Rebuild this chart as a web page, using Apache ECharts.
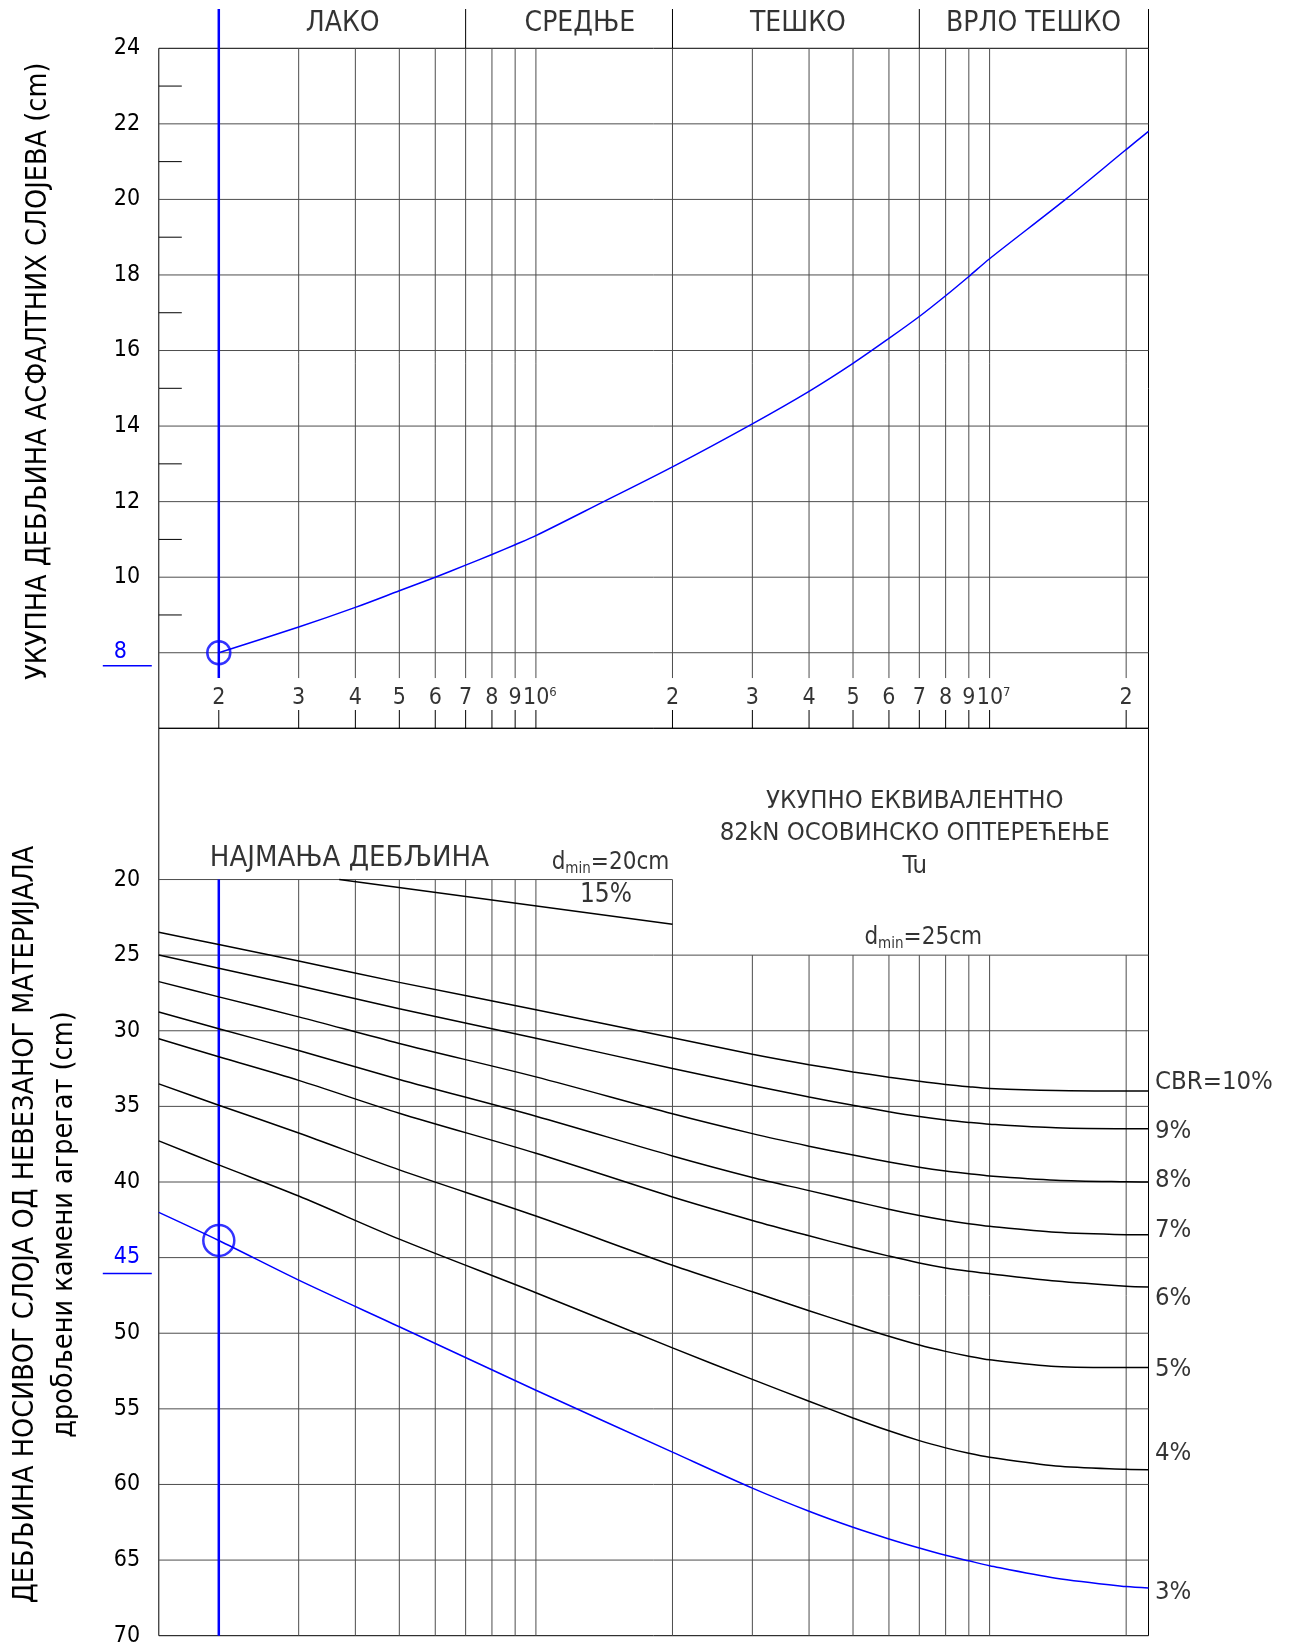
<!DOCTYPE html>
<html lang="sr">
<head>
<meta charset="UTF-8">
<title>Дијаграм за димензионисање</title>
<script src="https://cdn.jsdelivr.net/npm/echarts@6.0.0/dist/echarts.min.js"></script>
<style>
  html, body { margin: 0; padding: 0; background: #fff; }
  #main { width: 1293px; height: 1648px; }
</style>
</head>
<body>
<div id="main"></div>
<script>
var FONT = "'DejaVu Sans Condensed', 'DejaVu Sans', sans-serif";
var BLUE = '#0000ff';

// Tu - укупно еквивалентно осовинско оптерећење (log оса)
var T_MIN = 147500, T_MAX = 22400000;
var gridT = [2e5, 3e5, 4e5, 5e5, 6e5, 7e5, 8e5, 9e5, 1e6, 2e6, 3e6, 4e6, 5e6, 6e6, 7e6, 8e6, 9e6, 1e7, 2e7];
var tickLabels = ['2', '3', '4', '5', '6', '7', '8', '9', '10^6', '2', '3', '4', '5', '6', '7', '8', '9', '10^7', '2'];

// категорије саобраћаја
var classNames = ['ЛАКО', 'СРЕДЊЕ', 'ТЕШКО', 'ВРЛО ТЕШКО'];
var classLabelT = [3.75e5, 1.25e6, 3.78e6, 1.25e7];
var classBounds = [7e5, 2e6, 7e6, T_MAX];

// горњи дијаграм: дебљина асфалтних слојева (cm)
var asphaltT = [2e5, 3e5, 4e5, 5e5, 6e5, 7e5, 8e5, 9e5, 1e6, 1.4e6, 2e6, 3e6, 4e6, 5e6, 6e6, 7e6, 8e6, 9e6, 1e7, 1.47e7, 2e7, 2.24e7];
var asphaltH = [8, 8.68, 9.2, 9.64, 10.0, 10.32, 10.6, 10.86, 11.1, 11.98, 12.92, 14.06, 14.92, 15.66, 16.32, 16.9, 17.45, 17.96, 18.43, 20.0, 21.32, 21.8];

// доњи дијаграм: дебљина носивог слоја (cm) за CBR
var baseT = [147500, 2e5, 3e5, 5e5, 1e6, 2e6, 3e6, 4e6, 5e6, 6e6, 7e6, 8e6, 9e6, 1e7, 1.4e7, 2e7, 2.24e7];
var cbr10 = [23.49, 24.30, 25.39, 26.80, 28.61, 30.46, 31.55, 32.24, 32.72, 33.07, 33.34, 33.55, 33.70, 33.81, 33.95, 33.98, 33.98];
var cbr9 = [24.99, 25.86, 27.03, 28.54, 30.50, 32.49, 33.62, 34.38, 34.93, 35.35, 35.67, 35.90, 36.06, 36.18, 36.42, 36.48, 36.48];
var cbr8 = [26.75, 27.76, 29.08, 30.84, 33.05, 35.49, 36.80, 37.63, 38.22, 38.68, 39.02, 39.27, 39.45, 39.60, 39.88, 39.99, 40.00];
var cbr7 = [28.76, 29.87, 31.31, 33.22, 35.65, 38.28, 39.70, 40.57, 41.25, 41.80, 42.22, 42.53, 42.76, 42.93, 43.32, 43.48, 43.49];
var cbr6 = [30.53, 31.72, 33.28, 35.45, 38.10, 40.99, 42.54, 43.56, 44.32, 44.90, 45.35, 45.68, 45.90, 46.06, 46.55, 46.89, 46.94];
var cbr5 = [33.51, 34.92, 36.76, 39.20, 42.25, 45.51, 47.26, 48.51, 49.45, 50.20, 50.78, 51.20, 51.52, 51.76, 52.20, 52.27, 52.27];
var cbr4 = [37.28, 38.87, 40.93, 43.78, 47.32, 50.97, 53.05, 54.50, 55.60, 56.45, 57.10, 57.58, 57.94, 58.20, 58.78, 59.00, 59.03];
var cbr3 = [42.01, 43.87, 46.49, 49.57, 53.77, 57.86, 60.24, 61.77, 62.83, 63.60, 64.20, 64.68, 65.05, 65.37, 66.20, 66.75, 66.85];
var cbrNames = ['CBR=10%', '9%', '8%', '7%', '6%', '5%', '4%', '3%'];
var cbrLabelY = [33.43, 36.63, 39.9, 43.17, 47.67, 52.41, 57.97, 67.15];

var cbr15T = [368600, 2e6];
var cbr15D = [20, 22.95];

// пример очитавања
var designT = 2e5;
var designH = 8;
var designD = 43.87;

// натписи у доњем дијаграму
var noteText = ['НАЈМАЊА ДЕБЉИНА', '{a|d}{m|min}{a|=20cm}', '15%', 'УКУПНО ЕКВИВАЛЕНТНО\n82kN ОСОВИНСКО ОПТЕРЕЋЕЊЕ\nTu', '{a|d}{m|min}{a|=25cm}'];
var noteT = [388000, 1.46e6, 1.427e6, 6.84e6, 7.14e6];
var noteY = [18.64, 18.9, 21.02, 16.95, 23.87];
var noteSize = [29, 24, 26, 25.5, 24];

var cbrList = [cbr10, cbr9, cbr8, cbr7, cbr6, cbr5, cbr4, cbr3];

// линије мреже: [x1, y1, x2, y2, врста]
var topSegs = [];
gridT.forEach(function (t) {
  if (t !== designT) topSegs.push([t, 7.33, t, 24, 0]);
  topSegs.push([t, 6, t, 6, 4]);
});
for (var v = 8; v <= 22; v += 2) topSegs.push([T_MIN, v, T_MAX, v, 0]);
for (v = 9; v <= 23; v += 2) topSegs.push([T_MIN, v, T_MIN, v, 3]);
classBounds.forEach(function (t) { topSegs.push([t, 24, t, 25.04, 1]); });
topSegs.push([designT, 7.33, designT, 25.04, 2]);

var botSegs = [];
gridT.forEach(function (t) {
  if (t !== designT) botSegs.push([t, t <= 2e6 ? 20 : 25, t, 70, 0]);
});
botSegs.push([T_MIN, 20, 2e6, 20, 0]);
for (v = 25; v <= 65; v += 5) botSegs.push([T_MIN, v, T_MAX, v, 0]);
botSegs.push([designT, 20, designT, 70, 2]);

var segStyle = [
  { color: '#4d4d4d', width: 1 },
  { color: '#000', width: 1 },
  { color: BLUE, width: 2.5 },
  { color: '#000', width: 1 },
  { color: '#000', width: 1 }
];

function segSeries(gi, rows) {
  return {
    type: 'custom', xAxisIndex: gi, yAxisIndex: gi, silent: true, z: 1,
    data: rows, encode: { x: [0, 2], y: [1, 3] },
    renderItem: function (params, api) {
      var kind = api.value(4);
      var a = api.coord([api.value(0), api.value(1)]);
      var b = api.coord([api.value(2), api.value(3)]);
      if (kind === 3) b = [a[0] + 23, a[1]];
      if (kind === 4) b = [a[0], a[1] - 18.3];
      return {
        type: 'line',
        shape: { x1: a[0], y1: a[1], x2: b[0], y2: b[1] },
        style: { stroke: segStyle[kind].color, lineWidth: segStyle[kind].width }
      };
    }
  };
}

function textSeries(gi, rows, label) {
  var base = { show: true, position: 'inside', color: '#000', fontFamily: FONT, fontSize: 23 };
  for (var k in label) base[k] = label[k];
  return {
    type: 'scatter', xAxisIndex: gi, yAxisIndex: gi, clip: false, silent: true, z: 5,
    symbolSize: 0, itemStyle: { color: 'transparent' }, label: base, data: rows
  };
}

var tickRows = gridT.map(function (t, i) {
  var s = tickLabels[i];
  var f = s.indexOf('^') >= 0 ? '{p|' + s.split('^')[0] + '}{s|' + s.split('^')[1] + '}' : '{n|' + s + '}';
  return { value: [t, 6.81], label: { formatter: f } };
});
var classRows = classNames.map(function (s, i) {
  return { value: [classLabelT[i], 24.64], label: { formatter: s } };
});
var noteRows = noteText.map(function (s, i) {
  return { value: [noteT[i], noteY[i]], label: { formatter: s, fontSize: noteSize[i], lineHeight: 32.5 } };
});
var cbrRows = cbrNames.map(function (s, i) {
  return { value: [T_MAX, cbrLabelY[i]], label: { formatter: s } };
});

var richNum = {
  n: { fontFamily: FONT, fontSize: 23, color: '#000' },
  p: { fontFamily: FONT, fontSize: 23, color: '#000', padding: [0, 0, 0, 8] },
  s: { fontFamily: FONT, fontSize: 13, color: '#000', verticalAlign: 'top', lineHeight: 14 },
  a: { fontFamily: FONT, fontSize: 24, color: '#000' },
  m: { fontFamily: FONT, fontSize: 15, color: '#000', verticalAlign: 'bottom', padding: [0, 0, 3, 0] }
};

var yRich = {
  k: { fontFamily: FONT, fontSize: 23, color: '#000', padding: [0, 11.7, 0, 0] },
  b: { fontFamily: FONT, fontSize: 23, color: BLUE, lineHeight: 26, align: 'left', padding: [0, 0, 0, 11] },
  c: { fontFamily: FONT, fontSize: 23, color: BLUE, lineHeight: 32, align: 'right', padding: [0, 11.7, 0, 0] },
  u: { width: 49, height: 1.5, lineHeight: 1.5, backgroundColor: BLUE }
};

var series = [segSeries(0, topSegs), segSeries(1, botSegs)];

series.push({
  type: 'line', xAxisIndex: 0, yAxisIndex: 0, silent: true, z: 3,
  data: asphaltT.map(function (t, i) { return [t, asphaltH[i]]; }),
  smooth: 0.3, symbol: 'none',
  lineStyle: { color: BLUE, width: 1.5 }
});
cbrList.forEach(function (arr, i) {
  series.push({
    type: 'line', xAxisIndex: 1, yAxisIndex: 1, silent: true, z: 3,
    data: baseT.map(function (t, j) { return [t, arr[j]]; }),
    smooth: 0.3, symbol: 'none',
    lineStyle: { color: i === cbrList.length - 1 ? BLUE : '#000', width: 1.5 }
  });
});
series.push({
  type: 'line', xAxisIndex: 1, yAxisIndex: 1, silent: true, z: 3,
  data: cbr15T.map(function (t, i) { return [t, cbr15D[i]]; }),
  symbol: 'none', lineStyle: { color: '#000', width: 1.5 }
});
// кругови на очитаним тачкама
series.push({
  type: 'scatter', xAxisIndex: 0, yAxisIndex: 0, silent: true, z: 4, clip: false,
  data: [[designT, designH]], symbolSize: 23,
  itemStyle: { color: 'rgba(0,0,0,0)', borderColor: BLUE, borderWidth: 2.5 }
});
series.push({
  type: 'scatter', xAxisIndex: 1, yAxisIndex: 1, silent: true, z: 4, clip: false,
  data: [[designT, designD]], symbolSize: 31,
  itemStyle: { color: 'rgba(0,0,0,0)', borderColor: BLUE, borderWidth: 2.5 }
});

series.push(textSeries(0, tickRows, { rich: richNum }));
series.push(textSeries(0, classRows, { fontSize: 28 }));
series.push(textSeries(1, noteRows, { rich: richNum }));
series.push(textSeries(1, cbrRows, { position: 'right', distance: 6.5, fontSize: 25.5 }));

var gridBase = { left: 158.8, width: 989.7, show: true, borderColor: '#000', borderWidth: 1, backgroundColor: 'transparent', containLabel: false, outerBoundsMode: 'none' };
function xAxisFor(gi) {
  return {
    type: 'log', logBase: 10, gridIndex: gi, min: T_MIN, max: T_MAX,
    axisLine: { show: false }, axisTick: { show: false }, axisLabel: { show: false },
    splitLine: { show: false }, minorTick: { show: false }
  };
}

var option = {
  animation: false,
  backgroundColor: '#fff',
  textStyle: { fontFamily: FONT },
  grid: [
    Object.assign({ top: 48.3, height: 680 }, gridBase),
    Object.assign({ top: 728.3, height: 907.4 }, gridBase)
  ],
  xAxis: [xAxisFor(0), xAxisFor(1)],
  yAxis: [
    {
      type: 'value', gridIndex: 0, min: 6, max: 24, interval: 2,
      axisLine: { show: false }, axisTick: { show: false }, splitLine: { show: false },
      axisLabel: {
        margin: 7, showMinLabel: true, showMaxLabel: true, rich: yRich,
        formatter: function (v) {
          if (v === 6) return '';
          if (v === designH) return '{b|' + v + '}\n{u|}';
          return '{k|' + v + '}';
        }
      },
      name: 'УКУПНА ДЕБЉИНА АСФАЛТНИХ СЛОЈЕВА (cm)',
      nameLocation: 'middle', nameRotate: 90, nameGap: 106,
      nameTextStyle: { fontFamily: FONT, fontSize: 28.5, color: '#000', padding: [0, 0, 0, 34] }
    },
    {
      type: 'value', gridIndex: 1, min: 10, max: 70, interval: 5, inverse: true,
      axisLine: { show: false }, axisTick: { show: false }, splitLine: { show: false },
      axisLabel: {
        margin: 7, showMinLabel: true, showMaxLabel: true, rich: yRich,
        formatter: function (v) {
          if (v < 20) return '';
          if (v === 45) return '{c|' + v + '}\n{u|}';
          return '{k|' + v + '}';
        }
      },
      name: 'ДЕБЉИНА НОСИВОГ СЛОЈА ОД НЕВЕЗАНОГ МАТЕРИЈАЛА\nдробљени камени агрегат (cm)',
      nameLocation: 'middle', nameRotate: 90, nameGap: 75,
      nameTextStyle: { fontFamily: FONT, fontSize: 28.5, lineHeight: 39, color: '#000', padding: [0, 85, 0, 0] }
    }
  ],
  series: series
};

var myChart = echarts.init(document.getElementById('main'), null, { renderer: 'canvas' });
myChart.setOption(option);
</script>
</body>
</html>
